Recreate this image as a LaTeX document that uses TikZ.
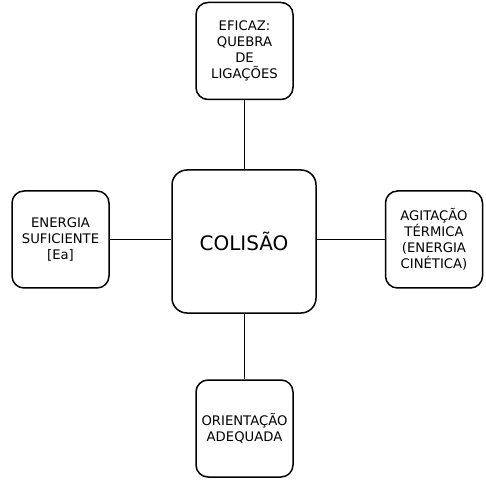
\documentclass[tikz,border=0pt]{standalone}
\usepackage{fontspec}
\setmainfont{DejaVu Sans}
\usepackage{tikz}
\usetikzlibrary{calc, positioning}

\begin{document}
\begin{tikzpicture}[
            x=1pt, y=1pt,
            box/.style={rectangle, draw, line width=1.5pt, rounded corners=12pt,
                        minimum width=97pt, minimum height=97pt, inner sep=1pt,
                        align=center, font=\fontsize{13.2}{16}\selectfont},
            bigbox/.style={box, rounded corners=15pt, minimum width=144pt,
                        minimum height=143pt, font=\fontsize{20}{24}\selectfont},
            edge/.style={-, line width=1.5pt}
        ]

        \useasboundingbox (0,0) rectangle (486,479);

        % Nodes (manual layout to match figure)
        \node[bigbox] (C) at (244, 237.5) {COLISÃO};
        \node[box] (T) at (244.5, 428) {EFICAZ:\\QUEBRA\\DE\\LIGAÇÕES};
        \node[box] (L) at (60.5, 239.5) {ENERGIA\\SUFICIENTE\\{[Ea]}};
        \node[box] (R) at (434, 239.5) {AGITAÇÃO\\TÉRMICA\\(ENERGIA\\CINÉTICA)};
        \node[box] (B) at (244.5, 50.5) {ORIENTAÇÃO\\ADEQUADA};

        % Edges
        \draw[edge] (T.south) -- (T.south |- C.north);
        \draw[edge] (B.north) -- (B.north |- C.south);
        \draw[edge] (L.east) -- (L.east -| C.west);
        \draw[edge] (R.west) -- (R.west -| C.east);

    \end{tikzpicture}
\end{document}
